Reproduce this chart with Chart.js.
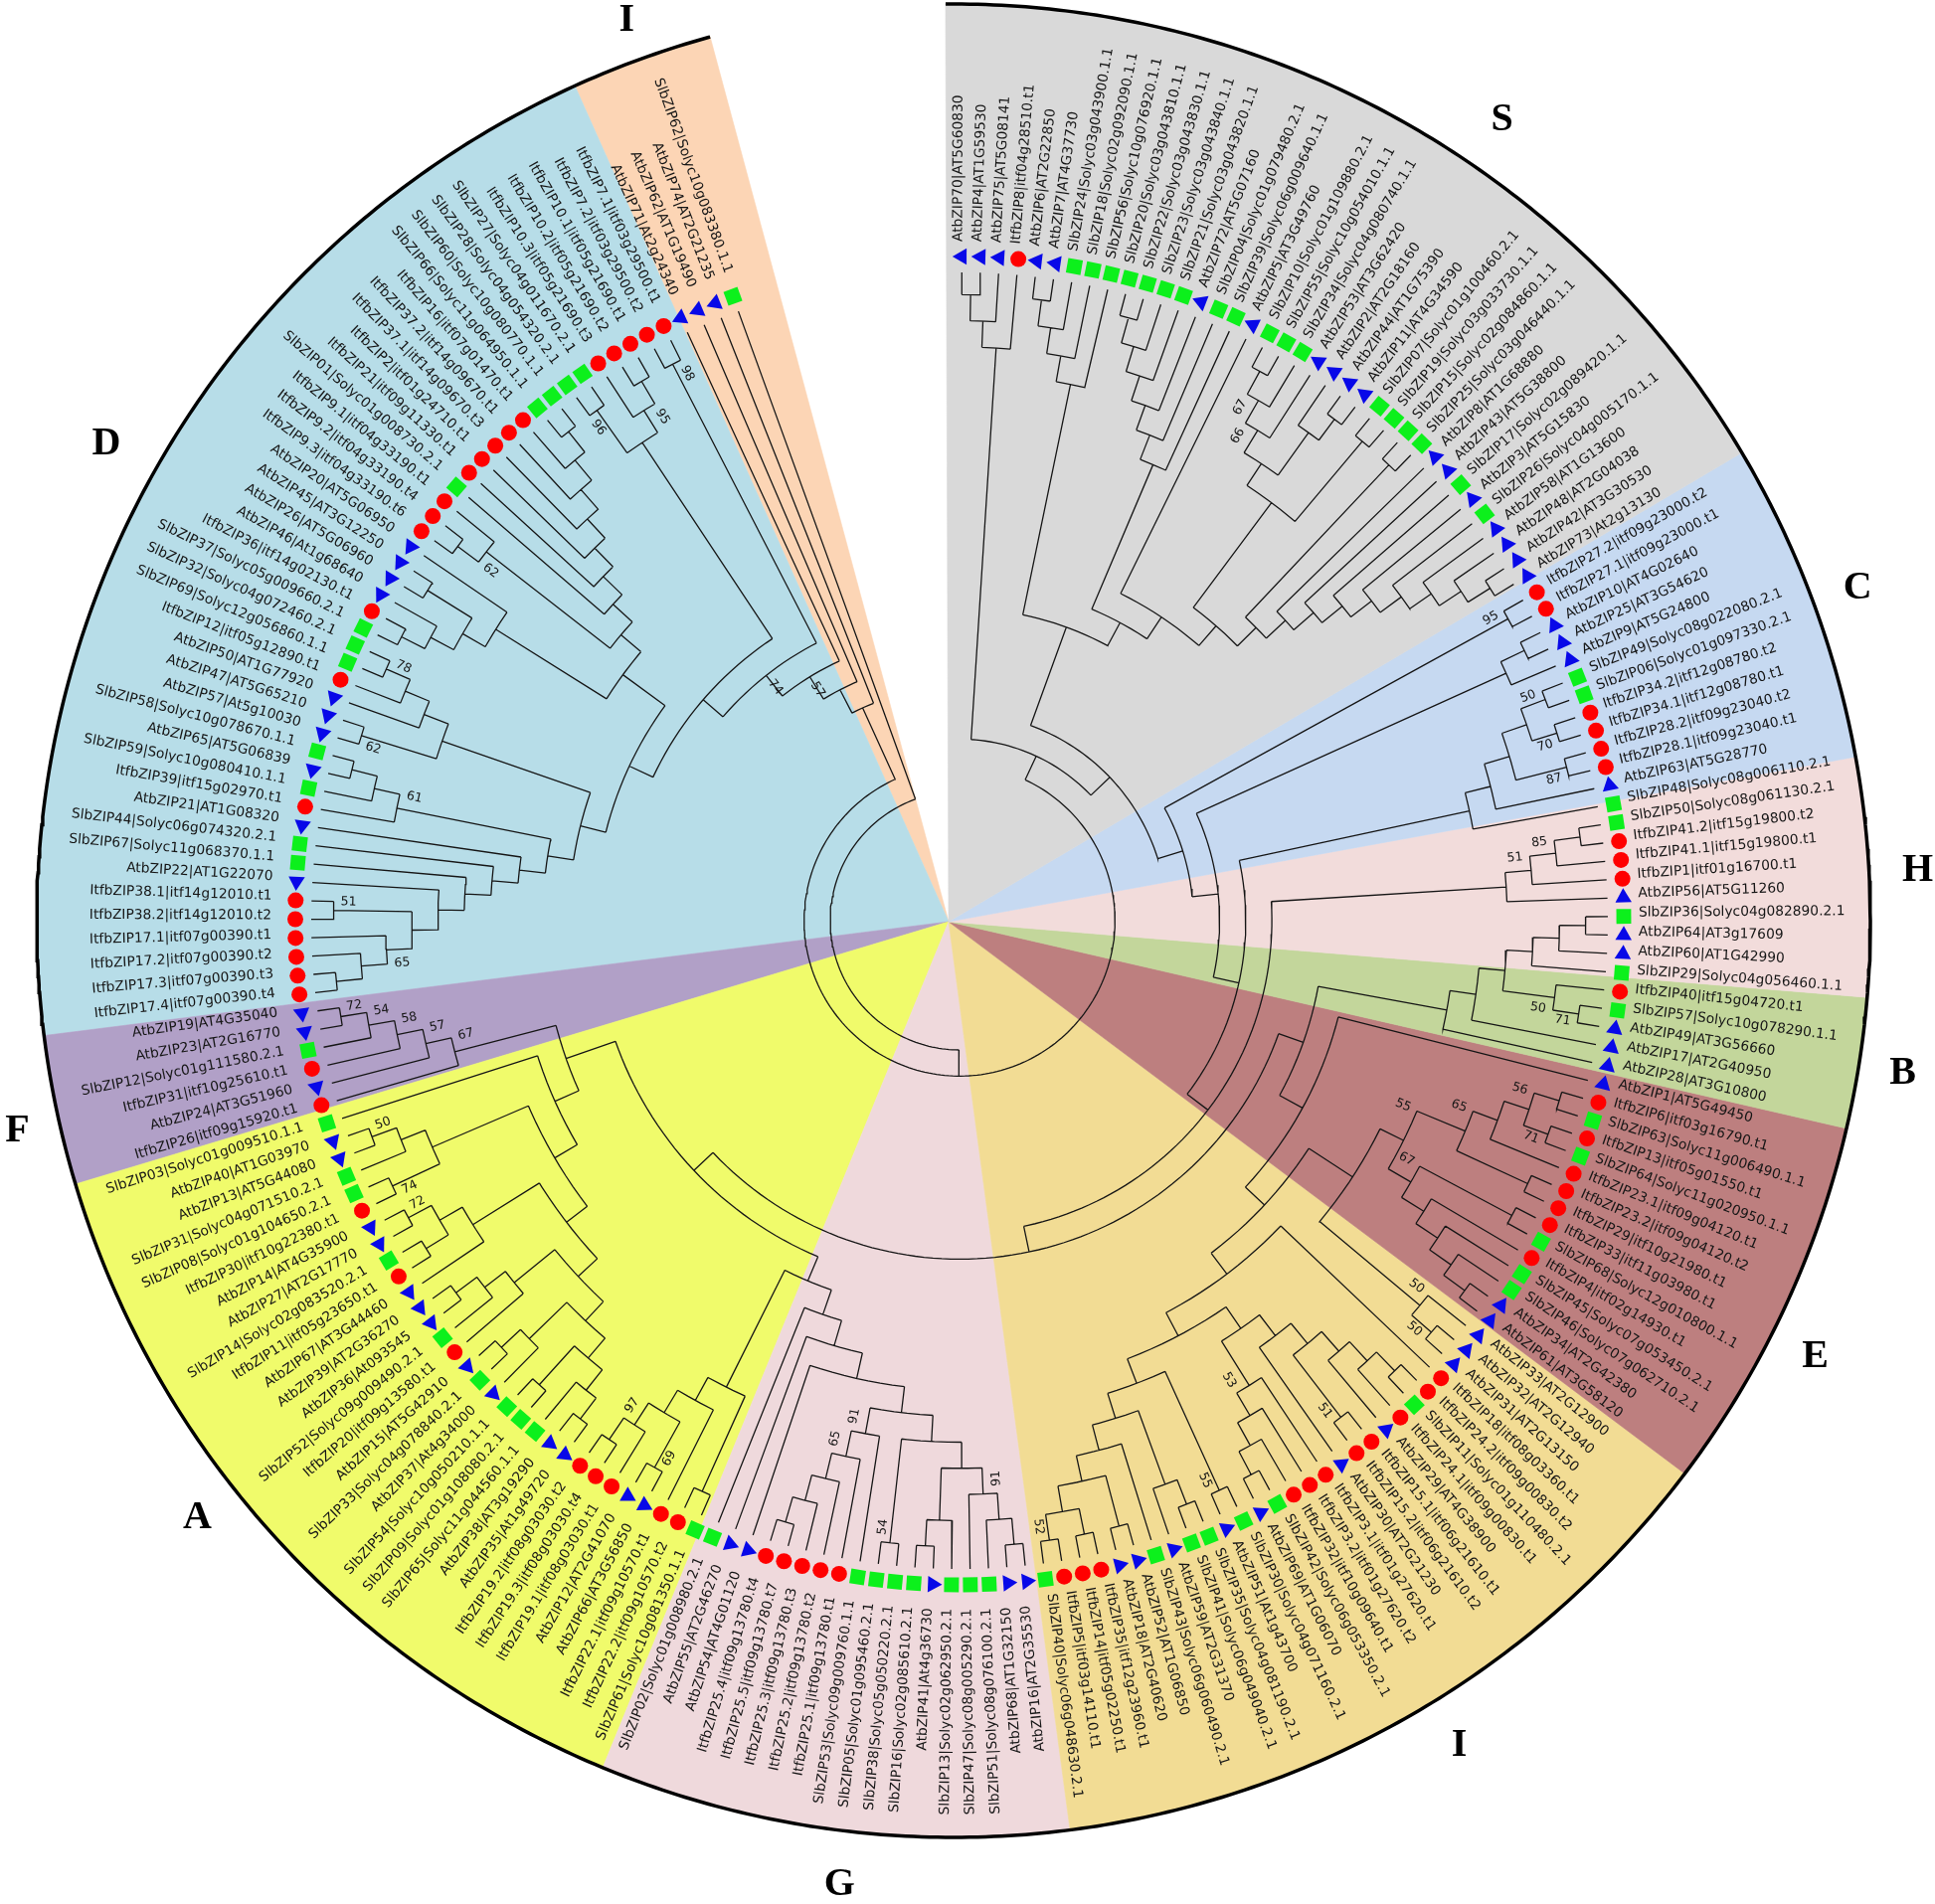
<!DOCTYPE html>
<html>
<head>
<meta charset="utf-8">
<title>bZIP tree</title>
<script src="https://cdn.jsdelivr.net/npm/chart.js@4/dist/chart.umd.min.js"></script>
<style>
  html, body { margin: 0; padding: 0; background: #fff; }
  canvas { display: block; }
</style>
</head>
<body>
<canvas id="tree" width="1946" height="1915"></canvas>
<script>
// leaves, clockwise from the top of the ring
const tipLabels = [
  'AtbZIP70|AT5G60830','AtbZIP4|AT1G59530','AtbZIP75|AT5G08141','ItfbZIP8|itf04g28510.t1','AtbZIP6|AT2G22850','AtbZIP7|AT4G37730',
  'SlbZIP24|Solyc03g043900.1.1','SlbZIP18|Solyc02g092090.1.1','SlbZIP56|Solyc10g076920.1.1','SlbZIP20|Solyc03g043810.1.1','SlbZIP22|Solyc03g043830.1.1','SlbZIP23|Solyc03g043840.1.1','SlbZIP21|Solyc03g043820.1.1',
  'AtbZIP72|AT5G07160','SlbZIP04|Solyc01g079480.2.1','SlbZIP39|Solyc06g009640.1.1','AtbZIP5|AT3G49760','SlbZIP10|Solyc01g109880.2.1','SlbZIP55|Solyc10g054010.1.1','SlbZIP34|Solyc04g080740.1.1',
  'AtbZIP53|AT3G62420','AtbZIP2|AT2G18160','AtbZIP44|AT1G75390','AtbZIP11|AT4G34590','SlbZIP07|Solyc01g100460.2.1','SlbZIP19|Solyc03g033730.1.1','SlbZIP15|Solyc02g084860.1.1','SlbZIP25|Solyc03g046440.1.1',
  'AtbZIP8|AT1G68880','AtbZIP43|AT5G38800','SlbZIP17|Solyc02g089420.1.1','AtbZIP3|AT5G15830','SlbZIP26|Solyc04g005170.1.1','AtbZIP58|AT1G13600','AtbZIP48|AT2G04038','AtbZIP42|AT3G30530','AtbZIP73|At2g13130',
  'ItfbZIP27.2|itf09g23000.t2','ItfbZIP27.1|itf09g23000.t1','AtbZIP10|AT4G02640','AtbZIP25|AT3G54620','AtbZIP9|AT5G24800','SlbZIP49|Solyc08g022080.2.1','SlbZIP06|Solyc01g097330.2.1',
  'ItfbZIP34.2|itf12g08780.t2','ItfbZIP34.1|itf12g08780.t1','ItfbZIP28.2|itf09g23040.t2','ItfbZIP28.1|itf09g23040.t1','AtbZIP63|AT5G28770','SlbZIP48|Solyc08g006110.2.1',
  'SlbZIP50|Solyc08g061130.2.1','ItfbZIP41.2|itf15g19800.t2','ItfbZIP41.1|itf15g19800.t1','ItfbZIP1|itf01g16700.t1','AtbZIP56|AT5G11260','SlbZIP36|Solyc04g082890.2.1','AtbZIP64|AT3g17609','AtbZIP60|AT1G42990','SlbZIP29|Solyc04g056460.1.1',
  'ItfbZIP40|itf15g04720.t1','SlbZIP57|Solyc10g078290.1.1','AtbZIP49|AT3G56660','AtbZIP17|AT2G40950','AtbZIP28|AT3G10800',
  'AtbZIP1|AT5G49450','ItfbZIP6|itf03g16790.t1','SlbZIP63|Solyc11g006490.1.1','ItfbZIP13|itf05g01550.t1','SlbZIP64|Solyc11g020950.1.1','ItfbZIP23.1|itf09g04120.t1','ItfbZIP23.2|itf09g04120.t2','ItfbZIP29|itf10g21980.t1','ItfbZIP33|itf11g03980.t1',
  'SlbZIP68|Solyc12g010800.1.1','ItfbZIP4|itf02g14930.t1','SlbZIP45|Solyc07g053450.2.1','SlbZIP46|Solyc07g062710.2.1','AtbZIP34|AT2G42380','AtbZIP61|AT3G58120',
  'AtbZIP33|AT2G12900','AtbZIP32|AT2G12940','AtbZIP31|AT2G13150','ItfbZIP18|itf08g03360.t1','ItfbZIP24.2|itf09g00830.t2','SlbZIP11|Solyc01g110480.2.1','ItfbZIP24.1|itf09g00830.t1','AtbZIP29|AT4G38900',
  'ItfbZIP15.1|itf06g21610.t1','ItfbZIP15.2|itf06g21610.t2','AtbZIP30|AT2G21230','ItfbZIP3.1|itf01g27620.t1','ItfbZIP3.2|itf01g27620.t2','ItfbZIP32|itf10g09640.t1','SlbZIP42|Solyc06g053350.2.1','AtbZIP69|AT1G06070',
  'SlbZIP30|Solyc04g071160.2.1','AtbZIP51|At1g43700','SlbZIP35|Solyc04g081190.2.1','SlbZIP41|Solyc06g049040.2.1','AtbZIP59|AT2G31370','SlbZIP43|Solyc06g060490.2.1','AtbZIP52|AT1G06850','AtbZIP18|AT2G40620',
  'ItfbZIP35|itf12g23960.t1','ItfbZIP14|itf05g02250.t1','ItfbZIP5|itf03g14110.t1','SlbZIP40|Solyc06g048630.2.1',
  'AtbZIP16|AT2G35530','AtbZIP68|AT1G32150','SlbZIP51|Solyc08g076100.2.1','SlbZIP47|Solyc08g005290.2.1','SlbZIP13|Solyc02g062950.2.1','AtbZIP41|At4g36730','SlbZIP16|Solyc02g085610.2.1','SlbZIP38|Solyc05g050220.2.1','SlbZIP05|Solyc01g095460.2.1','SlbZIP53|Solyc09g009760.1.1',
  'ItfbZIP25.1|itf09g13780.t1','ItfbZIP25.2|itf09g13780.t2','ItfbZIP25.3|itf09g13780.t3','ItfbZIP25.5|itf09g13780.t7','ItfbZIP25.4|itf09g13780.t4','AtbZIP54|AT4G01120','AtbZIP55|AT2G46270','SlbZIP02|Solyc01g008980.2.1','SlbZIP61|Solyc10g081350.1.1',
  'ItfbZIP22.2|itf09g10570.t2','ItfbZIP22.1|itf09g10570.t1','AtbZIP66|AT3G56850','AtbZIP12|AT2G41070','ItfbZIP19.1|itf08g03030.t1','ItfbZIP19.3|itf08g03030.t4','ItfbZIP19.2|itf08g03030.t2','AtbZIP35|At1g49720','AtbZIP38|AT3g19290',
  'SlbZIP65|Solyc11g044560.1.1','SlbZIP09|Solyc01g108080.2.1','SlbZIP54|Solyc10g050210.1.1','AtbZIP37|At4g34000','SlbZIP33|Solyc04g078840.2.1','AtbZIP15|AT5G42910','ItfbZIP20|itf09g13580.t1','SlbZIP52|Solyc09g009490.2.1','AtbZIP36|At093545','AtbZIP39|AT2G36270',
  'AtbZIP67|AT3G44460','ItfbZIP11|itf05g23650.t1','SlbZIP14|Solyc02g083520.2.1','AtbZIP27|AT2G17770','AtbZIP14|AT4G35900','ItfbZIP30|itf10g22380.t1','SlbZIP08|Solyc01g104650.2.1','SlbZIP31|Solyc04g071510.2.1','AtbZIP13|AT5G44080','AtbZIP40|AT1G03970','SlbZIP03|Solyc01g009510.1.1',
  'ItfbZIP26|itf09g15920.t1','AtbZIP24|AT3G51960','ItfbZIP31|itf10g25610.t1','SlbZIP12|Solyc01g111580.2.1','AtbZIP23|AT2G16770','AtbZIP19|AT4G35040',
  'ItfbZIP17.4|itf07g00390.t4','ItfbZIP17.3|itf07g00390.t3','ItfbZIP17.2|itf07g00390.t2','ItfbZIP17.1|itf07g00390.t1','ItfbZIP38.2|itf14g12010.t2','ItfbZIP38.1|itf14g12010.t1','AtbZIP22|AT1G22070','SlbZIP67|Solyc11g068370.1.1','SlbZIP44|Solyc06g074320.2.1','AtbZIP21|AT1G08320',
  'ItfbZIP39|itf15g02970.t1','SlbZIP59|Solyc10g080410.1.1','AtbZIP65|AT5G06839','SlbZIP58|Solyc10g078670.1.1','AtbZIP57|At5g10030','AtbZIP47|AT5G65210','AtbZIP50|AT1G77920','ItfbZIP12|itf05g12890.t1','SlbZIP69|Solyc12g056860.1.1','SlbZIP32|Solyc04g072460.2.1','SlbZIP37|Solyc05g009660.2.1',
  'ItfbZIP36|itf14g02130.t1','AtbZIP46|At1g68640','AtbZIP26|AT5G06960','AtbZIP45|AT3G12250','AtbZIP20|AT5G06950','ItfbZIP9.3|itf04g33190.t6','ItfbZIP9.2|itf04g33190.t4','ItfbZIP9.1|itf04g33190.t1','SlbZIP01|Solyc01g008730.2.1','ItfbZIP21|itf09g11330.t1','ItfbZIP2|itf01g24710.t1',
  'ItfbZIP37.1|itf14g09670.t3','ItfbZIP37.2|itf14g09670.t1','ItfbZIP16|itf07g01470.t1','SlbZIP66|Solyc11g064950.1.1','SlbZIP60|Solyc10g080770.1.1','SlbZIP28|Solyc04g054320.2.1','SlbZIP27|Solyc04g011670.2.1','ItfbZIP10.3|itf05g21690.t3','ItfbZIP10.2|itf05g21690.t2','ItfbZIP10.1|itf05g21690.t1',
  'ItfbZIP7.2|itf03g29500.t2','ItfbZIP7.1|itf03g29500.t1','AtbZIP71|At2g24340','AtbZIP62|AT1G19490','AtbZIP74|AT2G21235','SlbZIP62|Solyc10g083380.1.1'
];

// branching: '.' is the next leaf, (..) a node, a number after ) its bootstrap
// and a/b/m says which end of the node's arc the number sits at
const n = (...kids) => '(' + kids.join('') + ')';

const s1 = '(((..).).)';
const s2 = '((((..).).).)';
const s3 = '((((((..).).).).).)';
const s4 = n(n('(((..).)67a.)66a', '(.(..))'), '(..)');
const s5 = n('(..)', '(.(.(.(.(.(.(.(..))))))))');
const sAll = n(s2, n(s3, n('.', n(s4, s5))));

const c43to50 = n(n(n('((..)50a(..)70b)', '(..)87b'), '.'), '.');
const h51to55 = '((((..).)85a.)51a.)';
const h56to64 = n(n(n('(((..).).)', '(.(..)71b)50b'), '.'), '.');

const e66to72 = '((((..)(..)71b)56a.)(..))65a';
const e73to79 = '((..)(.(.(.(..)))))67a';
const lambda = '((' + e66to72 + e73to79 + ')55a(.(..)50b)50a)';

const i84to90 = n(n('(((..).).)', '(..)51b'), '.');
const i91to95 = '(.(.(.(..))))53b';
const i98to107 = n('((..).)', '(.((..)((..)(..)52b)))');
const i83to107 = n('.', n(n(i84to90, i91to95), n('(..)55b', i98to107)));

const g108to116 = n(n('(((..).).)91a', '(.(..))'), '(..)54b');
const g117to122 = '(.(.(.(.(..))))65b)91b';
const g108to125 = n(n(n(n(g108to116, g117to122), '.'), '.'), '.');
const a126to133 = n('(..)', '(.((..)69a(.(..))97b))');

const a134to145 = n(n('(((..).)(..))', '(.(..))'), '(.(.(..)))');
const a146to150 = '(.((..)(..)72b))';
const a151to155 = '((..)74a(.(..)50b))';
const f157to162 = '(.(.(.(.(..)72b)54b)58b)57b)67b';

const d163to176 = n('((((((((..).).)65a(..)51b).).).).)', '(.(.(..)))61b');
const d177to182 = '((..)62a(.(.(..)78b)))';
const d183to188 = '((((..).)(..)).)';
const d189to199 = n('((..).)62a', '(.(.(.(.(.(.(..)))))))');
const d200to204 = '((..)96a(.(..))95b)';

const rightHalf = n(s1, n(sAll, n('(..)95a', n('((..).)', n(c43to50, n(h51to55, n(
    n(h56to64, n('.', n(lambda, i83to107))),
    n(n(g108to125, a126to133), n(n(n(n(a134to145, a146to150), a151to155), '.'), f157to162))
)))))));
const dInner = n(n(n(d163to176, d177to182), n(d183to188, d189to199)), d200to204);
const dAll = '(((' + n(dInner, '(..)98b') + '74m.)57m.).)';
const treeShape = n(n(rightHalf, dAll), '.');

// sectors, clockwise from the top: start angle, colour, letter
const sectorStart = [-0.5, 59.3, 79.7, 94.8, 103.1, 127.1, 172.7, 202.5, 253.3, 262.8, 335.6];
const sectorEnd = [59.3, 79.7, 94.8, 103.1, 127.1, 172.7, 202.5, 253.3, 262.8, 335.6, 344.6];
const sectorColors = ['#d9d9d9', '#c6d9f1', '#f2dcdb', '#c3d69b', '#bd7f7f', '#f2dc94', '#efd9dc', '#f0fb6b', '#b1a0c7', '#b7dde8', '#fcd5b5'];
const cladeLetters = ['S', 'C', 'H', 'B', 'E', 'I', 'G', 'A', 'F', 'D', 'I'];
const letterAngles = [34.1, 69.7, 87, 99.2, 117, 148.8, 187.1, 231.9, 257.4, 299.2, 339.7];
const letterRadii = [973, 963, 965, 961, 966, 970, 977, 974, 971, 983, 965];

const FIRST_TIP_DEG = 0.2;
const LAST_TIP_DEG = 340.05;
const FLIP_FROM_TIP = 107;    // labels read the other way from here on
const RING_R = 668;
const TIP_LINE_R = 652;
const LEVEL_STEP = 26.3;      // one tree level in ring units
const OUTER_R = 922;
const RIM_SHIFT = -6;         // rim and wedges are not quite centred on the tree
const APEX = { x: -11, y: -1 };

const tipAngle = i => FIRST_TIP_DEG + i * (LAST_TIP_DEG - FIRST_TIP_DEG) / (tipLabels.length - 1);
const polar = (deg, r) => ({ x: r * Math.sin(deg * Math.PI / 180), y: r * Math.cos(deg * Math.PI / 180) });

function parseTree(src) {
    let pos = 0;
    let nextTip = 0;
    function readNode() {
        if (pos >= src.length) throw new Error('tree string ran out at tip ' + nextTip);
        if (src[pos] === '.') {
            pos++;
            const i = nextTip++;
            return { height: 0, angle: tipAngle(i), radius: TIP_LINE_R, kids: [] };
        }
        pos++;
        const kids = [];
        while (src[pos] !== ')') kids.push(readNode());
        pos++;
        const m = /^(\d+)([abm])/.exec(src.slice(pos, pos + 4));
        if (m) pos += m[0].length;
        const height = 1 + Math.max(...kids.map(k => k.height));
        const angle = (kids[0].angle + kids[kids.length - 1].angle) / 2;
        return { height, angle, radius: 656 - LEVEL_STEP * height, kids, boot: m ? m[1] : null, side: m ? m[2] : null };
    }
    const root = readNode();
    if (nextTip !== tipLabels.length || pos !== src.length) {
        throw new Error('tree has ' + nextTip + ' tips, stopped at ' + pos + ' of ' + src.length);
    }
    return root;
}

const treeRoot = parseTree(treeShape);
const branchPoints = [];
const bootLabels = [];

function walk(node) {
    if (!node.kids.length) return;
    const first = node.kids[0].angle;
    const last = node.kids[node.kids.length - 1].angle;
    for (let a = first; a < last; a += 1.5) branchPoints.push(polar(a, node.radius));
    branchPoints.push(polar(last, node.radius), { x: null, y: null });
    node.kids.forEach(k => {
        branchPoints.push(polar(k.angle, node.radius), polar(k.angle, k.radius), { x: null, y: null });
        walk(k);
    });
    if (node.boot) {
        const at = node.side === 'a' ? first : node.side === 'b' ? last : node.angle;
        bootLabels.push({ text: node.boot, angle: at, radius: node.radius - 15 });
    }
}
walk(treeRoot);

function arcPoints(from, to, r) {
    const pts = [];
    for (let a = from; a < to; a += 0.5) {
        const p = polar(a, r);
        pts.push({ x: p.x + RIM_SHIFT, y: p.y });
    }
    const p = polar(to, r);
    pts.push({ x: p.x + RIM_SHIFT, y: p.y });
    return pts;
}

const sectorSets = sectorStart.map((s, i) => ({
    data: [APEX, ...arcPoints(s, sectorEnd[i], OUTER_R), APEX],
    showLine: true,
    fill: 'shape',
    backgroundColor: sectorColors[i],
    borderColor: sectorColors[i],
    borderWidth: 0.6,
    pointRadius: 0,
    order: 10
}));

function markerSet(prefix, style, color, radius, turn) {
    const idx = tipLabels.map((t, i) => i).filter(i => tipLabels[i].startsWith(prefix));
    return {
        data: idx.map(i => polar(tipAngle(i), RING_R)),
        showLine: false,
        pointStyle: style,
        pointRadius: radius,
        pointRotation: idx.map(i => tipAngle(i) + turn),
        pointBackgroundColor: color,
        pointBorderWidth: 0,
        order: 1
    };
}

// text goes on after the marks, through the same scales
const labelPlugin = {
    id: 'treeLabels',
    afterDatasetsDraw(chart) {
        const { ctx, scales } = chart;
        const px = p => [scales.x.getPixelForValue(p.x), scales.y.getPixelForValue(p.y)];
        ctx.save();
        ctx.fillStyle = '#161616';
        ctx.font = '13.8px "DejaVu Sans"';
        ctx.textBaseline = 'alphabetic';
        tipLabels.forEach((t, i) => {
            const deg = tipAngle(i);
            const flip = i >= FLIP_FROM_TIP;
            const [x, y] = px(polar(deg, flip ? 692 : 683));
            ctx.save();
            ctx.translate(x, y);
            ctx.rotate((flip ? deg + 90 : deg - 90) * Math.PI / 180);
            ctx.textAlign = flip ? 'right' : 'left';
            ctx.fillText(t, 0, 0);
            ctx.restore();
        });
        ctx.font = '12.5px "DejaVu Sans"';
        ctx.textBaseline = 'middle';
        ctx.textAlign = 'center';
        bootLabels.forEach(b => {
            const [x, y] = px(polar(b.angle, b.radius));
            const flip = b.angle >= tipAngle(FLIP_FROM_TIP);
            ctx.save();
            ctx.translate(x, y);
            ctx.rotate((flip ? b.angle + 90 : b.angle - 90) * Math.PI / 180);
            ctx.fillText(b.text, 0, 0);
            ctx.restore();
        });
        ctx.fillStyle = '#000';
        ctx.font = 'bold 40px "Liberation Serif"';
        cladeLetters.forEach((l, i) => {
            const [x, y] = px(polar(letterAngles[i], letterRadii[i]));
            ctx.fillText(l, x, y);
        });
        ctx.restore();
    }
};

new Chart(document.getElementById('tree'), {
    type: 'scatter',
    data: {
        datasets: [
            ...sectorSets,
            { data: branchPoints, showLine: true, borderColor: '#161616', borderWidth: 1.3, pointRadius: 0, order: 5 },
            { data: arcPoints(-0.5, 344.6, OUTER_R), showLine: true, borderColor: '#000', borderWidth: 3.5, pointRadius: 0, order: 4 },
            markerSet('Itf', 'circle', '#ff0000', 8, 0),
            markerSet('Sl', 'rect', '#0cf01c', 10.5, 0),
            markerSet('At', 'triangle', '#0808e8', 9.5, -90)
        ]
    },
    options: {
        responsive: false,
        animation: false,
        layout: { padding: 0, autoPadding: false },
        plugins: { legend: { display: false }, tooltip: { enabled: false } },
        scales: {
            x: { type: 'linear', display: false, min: -965, max: 981 },
            y: { type: 'linear', display: false, min: -989, max: 926 }
        }
    },
    plugins: [labelPlugin]
});
</script>
</body>
</html>
